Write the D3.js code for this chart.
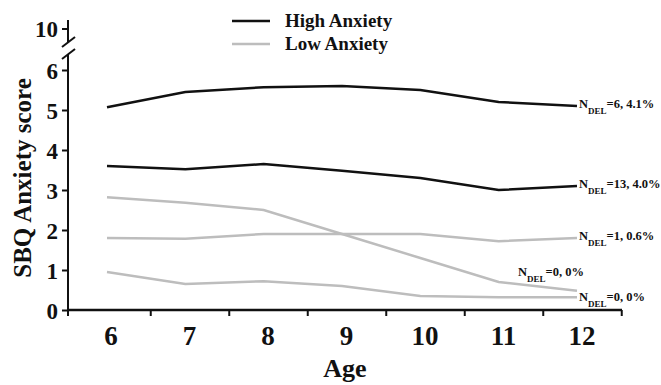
<!DOCTYPE html>
<html>
<head>
<meta charset="utf-8">
<script src="https://cdn.jsdelivr.net/npm/d3@7"></script>
<style>
  body { margin: 0; background: #fff; }
  text { font-family: "Liberation Serif", "Times New Roman", serif; font-weight: bold; fill: #111; }
</style>
</head>
<body>
<svg width="661" height="385"></svg>
<script>
var ages = [6, 7, 8, 9, 10, 11, 12];
var yTicks = [0, 1, 2, 3, 4, 5, 6];

// high anxiety groups
var highA = [5.07, 5.45, 5.57, 5.6, 5.5, 5.2, 5.1];
var highB = [3.6, 3.52, 3.65, 3.48, 3.3, 3.0, 3.1];
// low anxiety groups
var lowC = [2.82, 2.68, 2.5, 1.9, 1.3, 0.7, 0.48];
var lowD = [1.8, 1.78, 1.9, 1.9, 1.9, 1.72, 1.8];
var lowE = [0.95, 0.65, 0.72, 0.6, 0.35, 0.32, 0.32];

var nDel = ["=6, 4.1%", "=13, 4.0%", "=0, 0%", "=1, 0.6%", "=0, 0%"];

var svg = d3.select("svg");
var black = "#111", grey = "#bdbdbd";

var x = d3.scaleLinear().domain([6, 12]).range([107, 577]);
var xa = d3.scaleLinear().domain([6, 12]).range([111, 582]); // axis labels sit a bit right
var y = d3.scaleLinear().domain([0, 6]).range([310, 70]);

var line = d3.line()
    .x(function(d, i) { return x(ages[i]); })
    .y(function(d) { return y(d); });

var series = [
  {v: highA, c: black, lab: nDel[0], dx: 2, dy: 2},
  {v: highB, c: black, lab: nDel[1], dx: 2, dy: 2},
  {v: lowC, c: grey, lab: nDel[2], dx: -59, dy: -15},
  {v: lowD, c: grey, lab: nDel[3], dx: 2, dy: 2},
  {v: lowE, c: grey, lab: nDel[4], dx: 2, dy: 4}
];

svg.selectAll("path.series")
  .data(series)
  .enter().append("path")
    .attr("class", "series")
    .attr("fill", "none")
    .attr("stroke", function(d) { return d.c; })
    .attr("stroke-width", 2.5)
    .attr("d", function(d) { return line(d.v); });

var labs = svg.selectAll("text.ndel")
  .data(series)
  .enter().append("text")
    .attr("class", "ndel")
    .attr("x", function(d) { return x(12) + d.dx; })
    .attr("y", function(d) { return y(d.v[6]) + d.dy; })
    .style("font-size", "12.5px");
labs.append("tspan").text("N");
labs.append("tspan").attr("dy", 6).style("font-size", "9px").text("DEL");
labs.append("tspan").attr("dy", -6).text(function(d) { return d.lab; });

// y axis
var yAxis = svg.append("g")
    .attr("transform", "translate(68,0)")
    .call(d3.axisLeft(y).tickValues(yTicks).tickFormat(d3.format("d")).tickSize(6).tickPadding(4));
yAxis.select(".domain").remove();
yAxis.selectAll("line").attr("stroke", black).attr("stroke-width", 2);
yAxis.selectAll("text").style("font-size", "23px").attr("dy", "0.35em").style("fill", black);

// broken top part, tick for 10
svg.append("line").attr("x1", 68).attr("x2", 68).attr("y1", 20).attr("y2", 42)
  .attr("stroke", black).attr("stroke-width", 2);
svg.append("line").attr("x1", 68).attr("x2", 68).attr("y1", 54).attr("y2", 316)
  .attr("stroke", black).attr("stroke-width", 2);
svg.append("line").attr("x1", 62).attr("x2", 68).attr("y1", 29).attr("y2", 29)
  .attr("stroke", black).attr("stroke-width", 2);
svg.append("line").attr("x1", 62).attr("y1", 47).attr("x2", 75).attr("y2", 37)
  .attr("stroke", black).attr("stroke-width", 2);
svg.append("line").attr("x1", 62).attr("y1", 59).attr("x2", 75).attr("y2", 49)
  .attr("stroke", black).attr("stroke-width", 2);
svg.append("text").attr("x", 58).attr("y", 29).attr("dy", "0.35em")
  .attr("text-anchor", "end").style("font-size", "23px").text("10");

// x axis
var xAxis = svg.append("g")
    .attr("transform", "translate(0,310)")
    .call(d3.axisBottom(xa).tickValues(ages.map(function(a) { return a + 0.5; }))
      .tickSize(6).tickFormat(""));
xAxis.select(".domain").remove();
xAxis.selectAll("line").attr("stroke", black).attr("stroke-width", 2);
svg.append("line").attr("x1", 67).attr("x2", 622).attr("y1", 310).attr("y2", 310)
  .attr("stroke", black).attr("stroke-width", 2.5);

svg.selectAll("text.xl")
  .data(ages)
  .enter().append("text")
    .attr("class", "xl")
    .attr("x", function(d) { return xa(d); })
    .attr("y", 345)
    .attr("text-anchor", "middle")
    .style("font-size", "27px")
    .text(function(d) { return d; });

svg.append("text").attr("x", 345).attr("y", 377)
  .attr("text-anchor", "middle").style("font-size", "26px").text("Age");

svg.append("text")
  .attr("transform", "translate(31,178) rotate(-90)")
  .attr("text-anchor", "middle").style("font-size", "25px").text("SBQ Anxiety score");

// legend
var legend = [{name: "High Anxiety", c: black}, {name: "Low Anxiety", c: grey}];
var lg = svg.selectAll("g.leg").data(legend).enter().append("g")
  .attr("class", "leg")
  .attr("transform", function(d, i) { return "translate(232," + (21 + i * 23) + ")"; });
lg.append("line").attr("x1", 0).attr("x2", 38).attr("stroke", function(d) { return d.c; })
  .attr("stroke-width", 2.5);
lg.append("text").attr("x", 53).attr("y", 6).style("font-size", "19px")
  .text(function(d) { return d.name; });
</script>
</body>
</html>
